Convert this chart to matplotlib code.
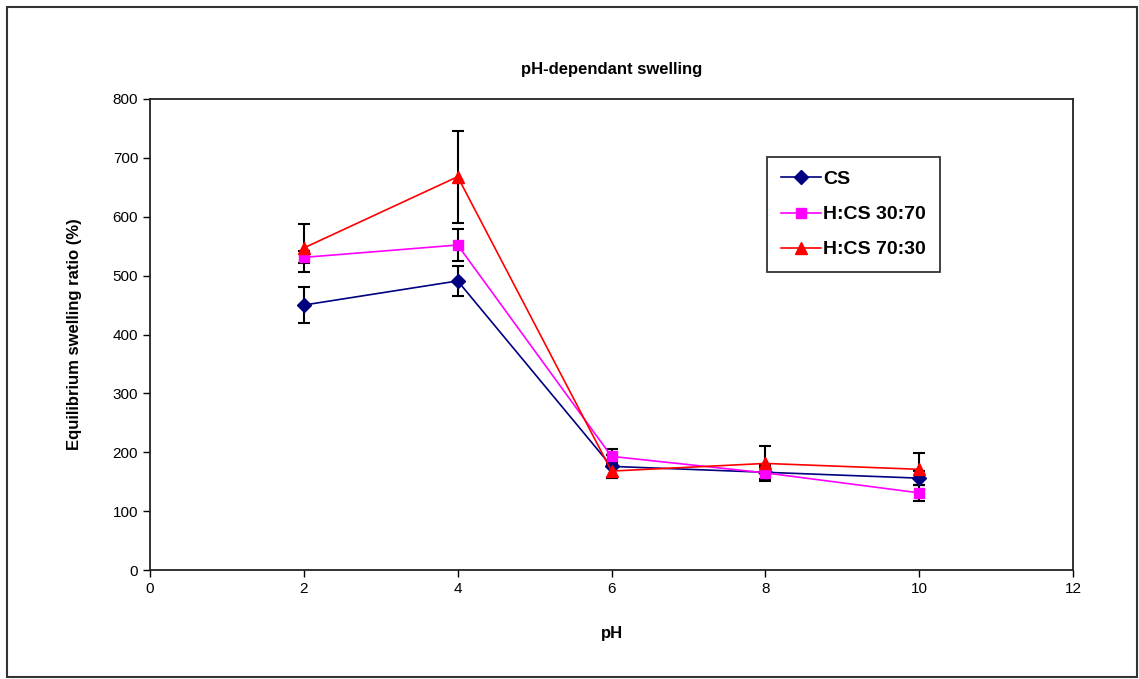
import matplotlib
matplotlib.use("Agg")
import matplotlib.pyplot as plt
from matplotlib.patches import Rectangle

plt.rcParams['font.family'] = ['Liberation Sans', 'DejaVu Sans']

ph = [2, 4, 6, 8, 10]
cs = [450, 491, 176, 166, 156]
cs_err = [31, 25, 20, 12, 12]
h3070 = [531, 552, 193, 165, 131]
h3070_err = [10, 27, 12, 10, 14]
h7030 = [547, 668, 168, 181, 171]
h7030_err = [41, 78, 12, 30, 27]

series = [
    ("CS", cs, cs_err, "#000080", "D", 7),
    ("H:CS 30:70", h3070, h3070_err, "#FF00FF", "s", 7),
    ("H:CS 70:30", h7030, h7030_err, "#FF0000", "^", 8),
]

fig = plt.figure(figsize=(11.39, 6.79), dpi=100)
ax = fig.add_axes([150/1139, 1-570/679, (1073-150)/1139, (570-99)/679])

for name, vals, err, col, mk, ms in series:
    ax.errorbar(ph, vals, yerr=err, fmt='none', ecolor='black', elinewidth=1.5,
                capsize=4, capthick=1.5, zorder=2)
for name, vals, err, col, mk, ms in series:
    ax.plot(ph, vals, color=col, marker=mk, markersize=ms, linewidth=1.2,
            label=name, zorder=3)

ax.set_xlim(0, 12)
ax.set_ylim(0, 800)
ax.set_xticks(range(0, 13, 2))
ax.set_yticks(range(0, 801, 100))
ax.tick_params(direction='out', length=5, labelsize=11, width=1)
for s in ax.spines.values():
    s.set_linewidth(1.3)
    s.set_color('#222222')

ax.set_title("pH-dependant swelling", fontsize=12, fontweight='bold', pad=18)
ax.set_xlabel("pH", fontsize=12, fontweight='bold', labelpad=22)
ax.set_ylabel("Equilibrium swelling ratio (%)", fontsize=12, fontweight='bold', labelpad=22)

leg = ax.legend(loc='upper left', bbox_to_anchor=((767-150)/923, (570-157)/471),
                borderaxespad=0, frameon=True, fancybox=False, edgecolor='black',
                prop={'weight': 'bold', 'size': 14}, handlelength=2.1,
                borderpad=0.7, labelspacing=0.9, handletextpad=0.1)
leg.get_frame().set_linewidth(1.3)

fig.patches.append(Rectangle((7/1139, 2/679), (1137-7)/1139, (672-2)/679,
                             transform=fig.transFigure, fill=False,
                             edgecolor='#333333', linewidth=1.5))

fig.savefig("out.png", dpi=100)
